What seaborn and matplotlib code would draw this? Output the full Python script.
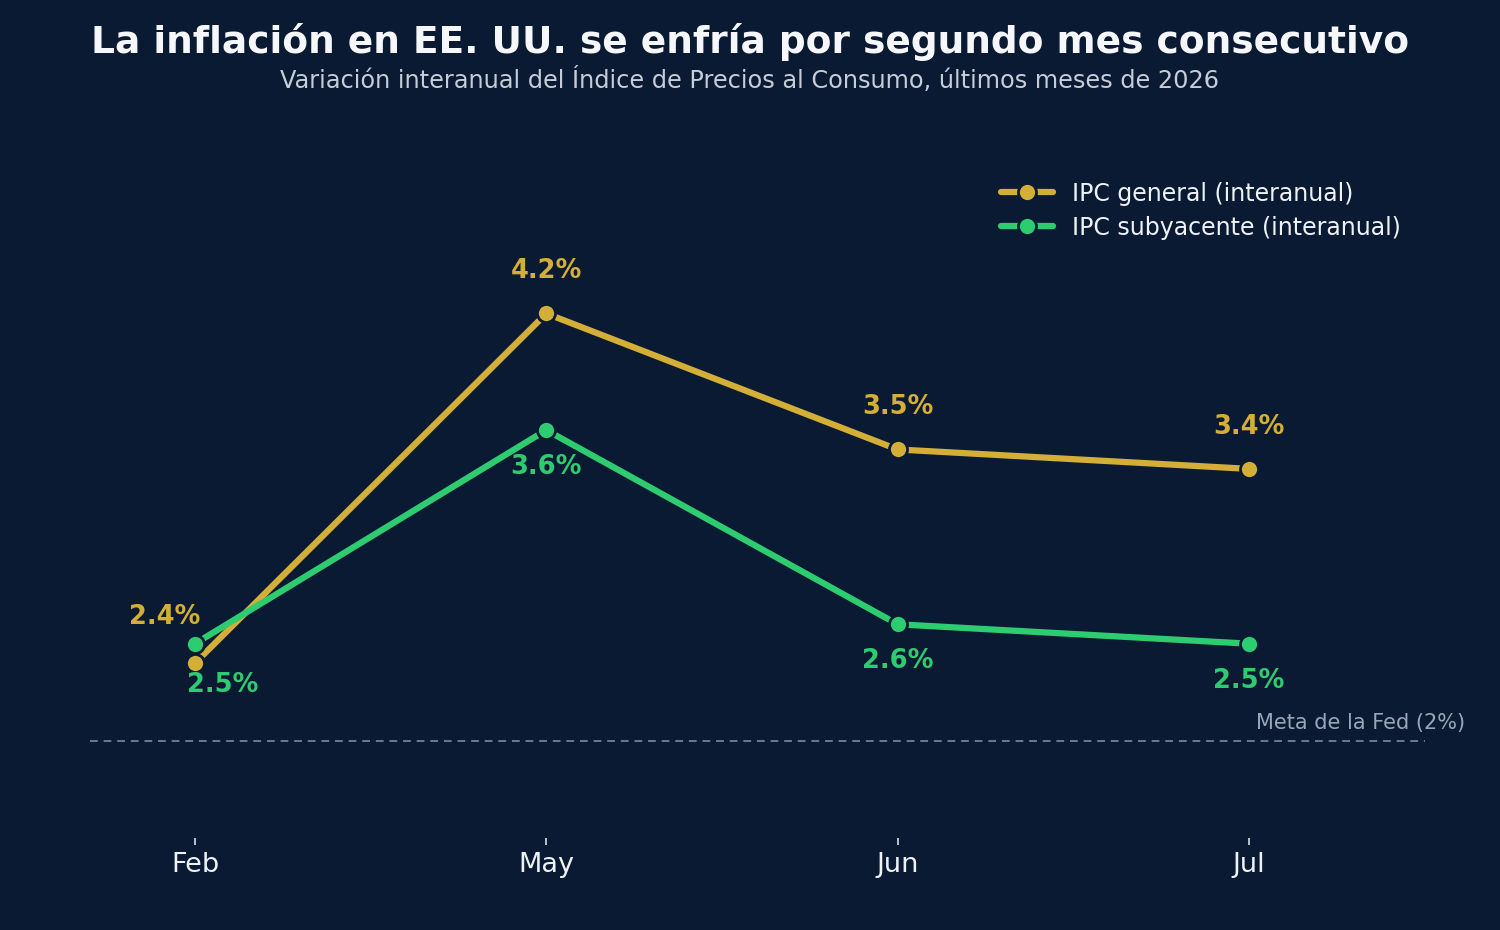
import pandas as pd
import matplotlib.pyplot as plt
import seaborn as sns

# Data
months = ["Feb", "May", "Jun", "Jul"]
ipc_general = [2.4, 4.2, 3.5, 3.4]
ipc_core = [2.5, 3.6, 2.6, 2.5]
fed_target = 2.0

BG = "#0b1a33"
GOLD = "#d4af37"
GREEN = "#2ecc71"

sns.set_theme(style="white")
plt.rcParams['font.family'] = ['DejaVu Sans']

df = pd.DataFrame({
    "mes": months * 2,
    "valor": ipc_general + ipc_core,
    "serie": ["IPC general (interanual)"] * len(months) + ["IPC subyacente (interanual)"] * len(months),
})
df["x"] = df.groupby("serie").cumcount()

fig = plt.figure(figsize=(15, 9.3), dpi=100, facecolor=BG)
ax = fig.add_axes([0.0597, 0.099, 0.890, 0.731])
ax.set_facecolor(BG)

sns.lineplot(data=df, x="x", y="valor", hue="serie",
             palette=[GOLD, GREEN], marker="o", markersize=13,
             markeredgecolor=BG, markeredgewidth=2, linewidth=4.5, ax=ax)

ax.axhline(fed_target, color="#6b7a90", linestyle=(0, (4, 3)), linewidth=1.4, zorder=0)
ax.text(3.02, fed_target + 0.04, "Meta de la Fed (2%)", color="#9aa6b8",
        fontsize=15, ha="left", va="bottom")

# value labels: general above, core below (Feb shifted sideways)
for i, v in enumerate(ipc_general):
    dx = -30 if i == 0 else 0
    dy = 46 if i == 0 else 42
    ax.annotate(f"{v}%", (i, v), xytext=(dx, dy), textcoords="offset pixels",
                ha="center", va="center", color=GOLD, fontsize=18.5, fontweight="bold")
for i, v in enumerate(ipc_core):
    dx = 28 if i == 0 else 0
    dy = -41 if i == 0 else -37
    ax.annotate(f"{v}%", (i, v), xytext=(dx, dy), textcoords="offset pixels",
                ha="center", va="center", color=GREEN, fontsize=18.5, fontweight="bold")

ax.set_xlim(-0.3, 3.5)
ax.set_ylim(1.5, 5.0)
ax.set_xticks(range(len(months)))
ax.set_xticklabels(months, fontsize=19.5, color="#eef2f7")
ax.set_yticks([])
ax.set_xlabel("")
ax.set_ylabel("")
ax.tick_params(axis="x", length=5, color="#cfd6e0", pad=5, bottom=True)
sns.despine(ax=ax, left=True, bottom=True)

leg = ax.legend(loc="upper right", frameon=False, fontsize=17, labelcolor="#eef2f7",
                handlelength=2.2, labelspacing=0.42, borderaxespad=0.6)

fig.text(0.5, 0.955, "La inflación en EE. UU. se enfría por segundo mes consecutivo",
         ha="center", va="center", fontsize=27, fontweight="bold", color="#f5f7fa")
fig.text(0.5, 0.914, "Variación interanual del Índice de Precios al Consumo, últimos meses de 2026",
         ha="center", va="center", fontsize=17.3, color="#c5cdd8")

fig.savefig("out.png", dpi=100, facecolor=BG)
